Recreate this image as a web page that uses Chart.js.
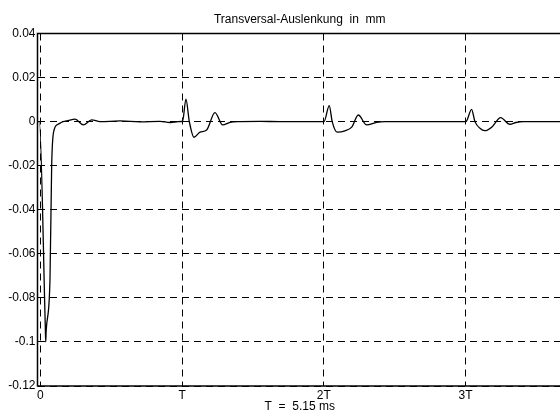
<!DOCTYPE html>
<html>
<head>
<meta charset="utf-8">
<script src="https://cdn.jsdelivr.net/npm/chart.js@4"></script>
<style>
  html, body { margin: 0; padding: 0; background: #fff; overflow: hidden; }
  canvas { display: block; }
</style>
</head>
<body>
<canvas id="deflection-chart" width="570" height="414"></canvas>
<script>
// time in units of T (T = 5.15 ms), deflection in mm
const timeT = [
  -0.02, -0.007, 0.035, 0.038, 0.041, 0.068, 0.08, 0.097, 0.125, 0.16, 0.195, 0.245, 0.303, 0.362, 0.421,
  0.562, 0.703, 0.844, 0.915, 0.971, 0.999,
  1.003, 1.027, 1.051, 1.084, 1.126, 1.173, 1.232, 1.286, 1.338, 1.408, 1.549, 1.69, 1.997,
  2.001, 2.038, 2.059, 2.094, 2.149, 2.198, 2.243, 2.302, 2.372, 2.431, 2.998,
  3.002, 3.042, 3.066, 3.101, 3.136, 3.186, 3.247, 3.312, 3.355, 3.406, 3.68,
];
const deflection = [
  0, 0, -0.093, -0.1, -0.095, -0.072, -0.0197, -0.0038, -0.0012, 0, 0.0005, 0.0011, -0.0015, 0.0008, 0,
  0.0003, -0.0001, 0.0001, -0.0004, 0, 0.0001,
  0, 0.0102, 0, -0.0071, -0.0048, -0.0038, 0.0041, -0.0015, -0.0003, 0, 0.0001, 0, 0,
  0, 0.0073, 0, -0.0048, -0.0042, -0.0024, 0.003, -0.0015, -0.0003, 0, 0,
  0, 0.0056, 0, -0.003, -0.0041, -0.0024, 0.0018, -0.0012, -0.0004, 0, 0,
];
const xTicks = [0, 1, 2, 3];
const xTickLabels = ["0", "T", "2T", "3T"];
const yTicks = [0.04, 0.02, 0, -0.02, -0.04, -0.06, -0.08, -0.1, -0.12];

const font = { family: "'Liberation Sans', Arial, sans-serif", size: 12 };

const frame = {
  id: "frame",
  afterDatasetsDraw(chart) {
    const { ctx, chartArea } = chart;
    ctx.save();
    ctx.strokeStyle = "#000";
    ctx.lineWidth = 1.5;
    ctx.strokeRect(chartArea.left, chartArea.top, chartArea.right - chartArea.left, chartArea.bottom - chartArea.top);
    ctx.restore();
  },
};

const chartEl = document.getElementById("deflection-chart");
const chart = new Chart(chartEl, {
  type: "line",
  data: {
    datasets: [
      {
        data: timeT.map((t, i) => ({ x: t, y: deflection[i] })),
        borderColor: "#000",
        borderWidth: 1.3,
        pointRadius: 0,
        cubicInterpolationMode: "monotone",
      },
    ],
  },
  options: {
    responsive: false,
    animation: false,
    layout: { padding: { left: 0, right: 8, top: 0, bottom: 0 } },
    plugins: {
      legend: { display: false },
      tooltip: { enabled: false },
    },
    scales: {
      x: {
        type: "linear",
        min: -0.02,
        max: 3.68,
        afterBuildTicks: (scale) => {
          scale.ticks = xTicks.map((v) => ({ value: v }));
        },
        afterFit: (scale) => {
          scale.height = 28;
        },
        ticks: {
          color: "#000",
          font: font,
          padding: 2,
          maxRotation: 0,
          callback: (value) => xTickLabels[xTicks.indexOf(value)],
        },
        grid: { color: "#000", lineWidth: 1, drawTicks: false },
        border: { display: false, dash: [7, 5] },
        title: {
          display: true,
          text: "T  =  5.15 ms",
          color: "#000",
          font: font,
          padding: { top: 0, bottom: 0 },
        },
      },
      x2: {
        type: "linear",
        position: "top",
        min: -0.02,
        max: 3.68,
        afterFit: (scale) => {
          scale.height = 33.5;
        },
        ticks: { display: false },
        grid: { display: false, drawTicks: false },
        border: { display: false },
        title: {
          display: true,
          text: "Transversal-Auslenkung  in  mm",
          color: "#000",
          font: font,
          padding: { top: 12.5, bottom: 0 },
        },
      },
      y: {
        min: -0.12,
        max: 0.04,
        afterBuildTicks: (scale) => {
          scale.ticks = yTicks.map((v) => ({ value: v }));
        },
        afterFit: (scale) => {
          scale.width = 37.5;
        },
        ticks: {
          color: "#000",
          font: font,
          padding: 2,
          callback: (value) => String(Number(value.toFixed(2))),
        },
        grid: { color: "#000", lineWidth: 1, drawTicks: false },
        border: { display: false, dash: [7, 5] },
      },
    },
  },
  plugins: [frame],
});
</script>
</body>
</html>
